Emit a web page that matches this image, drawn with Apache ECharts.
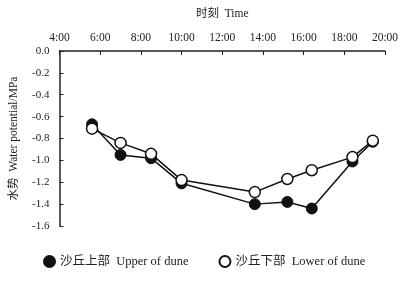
<!DOCTYPE html>
<html lang="zh-CN">
<head>
    <meta charset="UTF-8">
    <title>水势日变化</title>
    <script src="https://cdn.jsdelivr.net/npm/echarts/dist/echarts.min.js"></script>
    <style>
        html, body { margin: 0; padding: 0; background: #fff; }
        #main { width: 420px; height: 282px; }
    </style>
</head>
<body>
    <div id="main"></div>
    <script>
        // 时刻 (小时)
        var upperTimes = [5.6, 7.0, 8.5, 10.0, 13.6, 15.2, 16.4, 18.4, 19.4];
        var lowerTimes = [5.6, 7.0, 8.5, 10.0, 13.6, 15.2, 16.4, 18.4, 19.4];
        // 水势 MPa
        var upperValues = [-0.67, -0.95, -0.98, -1.21, -1.40, -1.38, -1.44, -1.01, -0.83];
        var lowerValues = [-0.71, -0.84, -0.94, -1.18, -1.29, -1.17, -1.09, -0.97, -0.82];

        var font = 'Liberation Serif, Noto Sans CJK SC, serif';
        var myChart = echarts.init(document.getElementById('main'));

        function pairs(xs, ys) {
            return xs.map(function (x, i) { return [x, ys[i]]; });
        }

        var option = {
            backgroundColor: '#fff',
            animation: false,
            textStyle: { fontFamily: font, color: '#222' },
            grid: { left: 59, right: 35, top: 51, bottom: 56 },
            legend: {
                bottom: 9,
                left: 38,
                itemGap: 30,
                itemWidth: 11,
                itemHeight: 11,
                textStyle: { fontFamily: font, fontSize: 12.5, color: '#222' },
                data: [
                    { name: '沙丘上部  Upper of dune', icon: 'circle' },
                    { name: '沙丘下部  Lower of dune', icon: 'circle' }
                ]
            },
            xAxis: {
                type: 'value',
                position: 'top',
                min: 4,
                max: 20,
                interval: 2,
                name: '时刻  Time',
                nameLocation: 'middle',
                nameGap: 31,
                nameTextStyle: { fontFamily: font, fontSize: 11.5, color: '#222' },
                axisLine: { lineStyle: { color: '#222', width: 1.5 } },
                axisTick: { inside: true, length: 4, lineStyle: { color: '#222' } },
                axisLabel: {
                    fontFamily: font, fontSize: 11.5, color: '#222', margin: 7,
                    formatter: function (v) { return v + ':00'; }
                },
                splitLine: { show: false }
            },
            yAxis: {
                type: 'value',
                min: -1.6,
                max: 0,
                interval: 0.2,
                name: '水势  Water potential/MPa',
                nameLocation: 'middle',
                nameGap: 40,
                nameRotate: 90,
                nameTextStyle: { fontFamily: font, fontSize: 11.5, color: '#222' },
                axisLine: { lineStyle: { color: '#222', width: 1.5 } },
                axisTick: { inside: true, length: 4, lineStyle: { color: '#222' } },
                axisLabel: {
                    fontFamily: font, fontSize: 11, color: '#222', margin: 10,
                    formatter: function (v) { return v.toFixed(1); }
                },
                splitLine: { show: false }
            },
            series: [
                {
                    name: '沙丘上部  Upper of dune',
                    type: 'line',
                    data: pairs(upperTimes, upperValues),
                    symbol: 'circle',
                    symbolSize: 11,
                    lineStyle: { color: '#111', width: 1.5 },
                    itemStyle: { color: '#111', borderColor: '#111', borderWidth: 1 }
                },
                {
                    name: '沙丘下部  Lower of dune',
                    type: 'line',
                    data: pairs(lowerTimes, lowerValues),
                    symbol: 'circle',
                    symbolSize: 11,
                    lineStyle: { color: '#111', width: 1.5 },
                    itemStyle: { color: '#fff', borderColor: '#111', borderWidth: 1.5 }
                }
            ]
        };

        myChart.setOption(option);
    </script>
</body>
</html>
